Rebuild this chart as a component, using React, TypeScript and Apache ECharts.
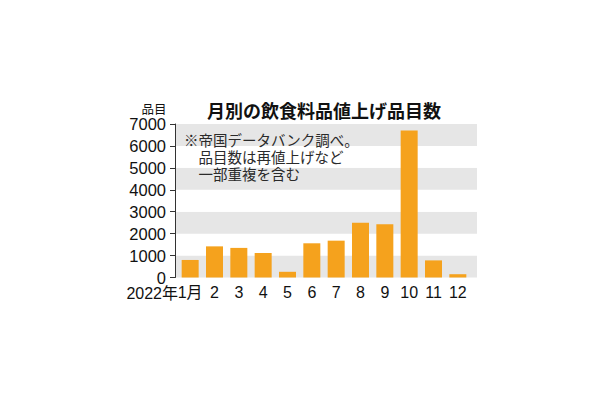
import { useEffect, useRef } from 'react';
import * as echarts from 'echarts';

const months = ['1月', '2', '3', '4', '5', '6', '7', '8', '9', '10', '11', '12'];
const items = [800, 1420, 1350, 1120, 260, 1560, 1680, 2500, 2430, 6700, 780, 150];
const yearLabel = '2022年';
const titleText = '月別の飲食料品値上げ品目数';
const unitText = '品目';
const noteLines = ['※帝国データバンク調べ。', '\u3000品目数は再値上げなど', '\u3000一部重複を含む'];

const FONT = '"Liberation Sans", Arial, "Noto Sans CJK JP", sans-serif';
const CJK = '"Noto Sans CJK JP", sans-serif';

export default function App() {
  const chartRef = useRef<HTMLDivElement>(null);

  useEffect(() => {
    if (!chartRef.current) return;
    const chart = echarts.init(chartRef.current, null, { renderer: 'svg' });

    const option: echarts.EChartsOption = {
      animation: false,
      backgroundColor: '#fff',
      grid: [
        // background bands + visible y axis
        { left: 175, right: 133, top: 124, bottom: 122.5 },
        // bars
        { left: 178, right: 140, top: 124, bottom: 122.5 },
      ],
      xAxis: [
        { type: 'value', gridIndex: 0, show: false, min: 0, max: 1 },
        {
          type: 'category',
          gridIndex: 1,
          data: months,
          axisLine: { show: false },
          axisTick: { show: false },
          axisLabel: { color: '#111', fontSize: 16, fontFamily: FONT, margin: 7, interval: 0 },
        },
      ],
      yAxis: [
        {
          type: 'value',
          gridIndex: 0,
          min: 0,
          max: 7000,
          interval: 1000,
          offset: 2,
          axisLine: { show: true, lineStyle: { color: '#333', width: 1 } },
          axisTick: { show: true, length: 5, lineStyle: { color: '#333' } },
          axisLabel: {
            color: '#111',
            fontSize: 16.5,
            fontFamily: FONT,
            margin: 7,
            formatter: (v: number) => String(v),
          },
          splitLine: { show: false },
          splitArea: { show: true, areaStyle: { color: ['#e6e6e6', '#ffffff'] } },
        },
        {
          type: 'value',
          gridIndex: 1,
          min: 0,
          max: 7000,
          interval: 1000,
          show: false,
          splitLine: { show: false },
        },
      ],
      series: [
        {
          type: 'bar',
          xAxisIndex: 1,
          yAxisIndex: 1,
          data: items,
          barWidth: 17,
          itemStyle: { color: '#f5a21d' },
        },
      ],
      graphic: [
        {
          type: 'text',
          left: 207,
          top: 101,
          style: { text: titleText, fontSize: 18, fontWeight: 'bold', fontFamily: CJK, fill: '#111' },
        },
        {
          type: 'text',
          x: 154,
          y: 108,
          style: { text: unitText, fontSize: 12.5, fontFamily: CJK, fill: '#111', align: 'center', verticalAlign: 'middle' },
        },
        {
          type: 'text',
          x: 184,
          y: 130.5,
          z: 10,
          style: {
            text: noteLines.join('\n'),
            fontSize: 14.5,
            lineHeight: 17,
            fontFamily: CJK,
            fill: '#2a2a2a',
          },
        },
        {
          type: 'text',
          x: 178,
          y: 293,
          style: { text: yearLabel, fontSize: 16, fontFamily: FONT, fill: '#111', align: 'right', verticalAlign: 'middle' },
        },
      ],
    };

    chart.setOption(option);
    return () => chart.dispose();
  }, []);

  return (
    <div
      ref={chartRef}
      style={{ position: 'fixed', left: 0, top: 0, width: 610, height: 400 }}
    />
  );
}
